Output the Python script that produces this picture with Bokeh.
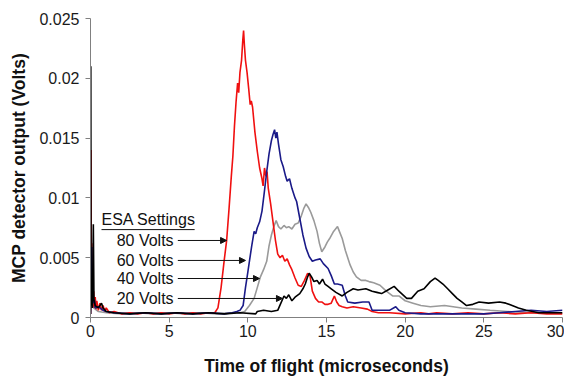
from bokeh.plotting import figure
from bokeh.models import Arrow, NormalHead, Label, Range1d, FixedTicker
from bokeh.embed import file_html
from bokeh.resources import INLINE

# ---------------- data ----------------
t_red = [0.00, 0.03, 0.05, 0.08, 0.10, 0.13, 0.16, 0.20, 0.25, 0.30, 0.35, 0.40, 0.50, 0.60, 0.70,
         0.80, 0.90, 1.00, 1.20, 1.50, 2.00, 2.50, 3.00, 3.50, 4.00, 4.50, 5.00, 5.50, 6.00, 6.50,
         7.00, 7.50, 7.90, 8.10, 8.30, 8.50, 8.65, 8.80, 8.95, 9.05, 9.15, 9.25, 9.35, 9.42, 9.50,
         9.60, 9.68, 9.73, 9.78, 9.85, 9.95, 10.05, 10.15, 10.22, 10.30, 10.45, 10.60, 10.75, 10.90,
         10.97, 11.06, 11.15, 11.22, 11.30, 11.45, 11.60, 11.75, 11.90, 12.05, 12.20, 12.35, 12.50,
         12.65, 12.80, 13.00, 13.20, 13.40, 13.60, 13.80, 13.95, 14.10, 14.30, 14.50, 14.70, 14.90,
         15.10, 15.30, 15.50, 15.65, 15.80, 16.00, 16.30, 16.70, 17.20, 17.60, 17.90, 18.30, 19.00,
         20.00, 21.00, 21.50, 22.00, 23.00, 24.00, 25.00, 26.00, 27.00, 28.00, 29.00, 30.00]
v_red = [0.0003, 0.0140, 0.0030, 0.0062, 0.0012, 0.0035, 0.0009, 0.0022, 0.0008, 0.0017, 0.0007, 0.0014, 0.0006, 0.0012, 0.0006,
         0.0010, 0.0005, 0.0008, 0.0004, 0.0005, 0.0003, 0.0004, 0.0003, 0.0004, 0.0003, 0.0004, 0.0003, 0.0004, 0.0003, 0.0004,
         0.0003, 0.0004, 0.0004, 0.0008, 0.0025, 0.0048, 0.0064, 0.0090, 0.0118, 0.0135, 0.0160, 0.0180, 0.0196, 0.0188, 0.0205,
         0.0215, 0.0232, 0.0240, 0.0228, 0.0215, 0.0205, 0.0192, 0.0178, 0.0181, 0.0176, 0.0155, 0.0139, 0.0125, 0.0116,
         0.0110, 0.0125, 0.0118, 0.0122, 0.0108, 0.0095, 0.0080, 0.0065, 0.0053, 0.0050, 0.0052, 0.0047, 0.0049,
         0.0044, 0.0040, 0.0033, 0.0027, 0.0026, 0.0031, 0.0037, 0.0035, 0.0022, 0.0016, 0.0013, 0.0013, 0.0011,
         0.0011, 0.0012, 0.0018, 0.0013, 0.0010, 0.0009, 0.0008, 0.0009, 0.0008, 0.0007, 0.0005, 0.0004, 0.0004,
         0.0003, 0.0004, 0.0003, 0.0004, 0.0003, 0.0004, 0.0003, 0.0004, 0.0003, 0.0004, 0.0003, 0.0003]

t_blue = [0.00, 0.05, 0.08, 0.10, 0.13, 0.18, 0.25, 0.30, 0.50, 0.80, 1.00, 1.50, 2.50, 3.50, 4.50,
          5.50, 6.50, 7.50, 8.50, 9.00, 9.30, 9.50, 9.70, 9.85, 10.00, 10.10, 10.25, 10.40, 10.50,
          10.60, 10.75, 10.90, 11.05, 11.20, 11.35, 11.50, 11.60, 11.70, 11.78, 11.85, 11.95, 12.10,
          12.25, 12.40, 12.50, 12.65, 12.80, 13.00, 13.10, 13.30, 13.50, 13.70, 13.90, 14.10, 14.30,
          14.60, 14.80, 15.10, 15.30, 15.50, 15.70, 16.00, 16.20, 16.35, 16.80, 17.30, 17.70, 17.90,
          18.50, 19.00, 19.40, 19.60, 20.00, 21.00, 22.00, 23.00, 24.00, 25.00, 26.00, 27.00, 28.00,
          29.00, 30.00]
v_blue = [0.0003, 0.0035, 0.0059, 0.0020, 0.0030, 0.0012, 0.0015, 0.0008, 0.0009, 0.0006, 0.0005, 0.0004, 0.0003, 0.0004, 0.0003,
          0.0004, 0.0003, 0.0004, 0.0003, 0.0004, 0.0005, 0.0006, 0.0010, 0.0025, 0.0038, 0.0047, 0.0060, 0.0072, 0.0070,
          0.0075, 0.0080, 0.0089, 0.0105, 0.0122, 0.0137, 0.0148, 0.0153, 0.0157, 0.0150, 0.0155, 0.0145, 0.0132,
          0.0126, 0.0118, 0.0114, 0.0116, 0.0108, 0.0100, 0.0097, 0.0083, 0.0069, 0.0058, 0.0051, 0.0047, 0.0048,
          0.0049, 0.0045, 0.0041, 0.0035, 0.0028, 0.0028, 0.0027, 0.0018, 0.0013, 0.0012, 0.0013, 0.0013, 0.0006,
          0.0006, 0.0006, 0.0009, 0.0006, 0.0004, 0.0003, 0.0003, 0.0003, 0.0003, 0.0003, 0.0004, 0.0005, 0.0006,
          0.0005, 0.0006]

t_gray = [0.00, 0.05, 0.10, 0.20, 0.50, 1.00, 2.00, 3.00, 4.00, 5.00, 6.00, 7.00, 8.00, 9.00, 9.50,
          9.80, 10.10, 10.40, 10.60, 10.80, 11.00, 11.20, 11.35, 11.50, 11.65, 11.80, 11.95, 12.10,
          12.30, 12.45, 12.60, 12.80, 13.00, 13.20, 13.40, 13.55, 13.70, 13.85, 14.00, 14.20, 14.40,
          14.55, 14.70, 14.90, 15.05, 15.20, 15.45, 15.70, 15.85, 16.00, 16.20, 16.50, 16.70, 16.90,
          17.20, 17.50, 17.70, 18.00, 18.40, 18.80, 19.20, 19.60, 20.00, 20.50, 21.00, 21.60, 22.50,
          23.60, 24.50, 25.40, 26.50, 28.00, 30.00]
v_gray = [0.0003, 0.0025, 0.0010, 0.0008, 0.0005, 0.0004, 0.0003, 0.0004, 0.0003, 0.0004, 0.0003, 0.0004, 0.0003, 0.0004, 0.0004,
          0.0005, 0.0010, 0.0016, 0.0025, 0.0034, 0.0040, 0.0047, 0.0060, 0.0069, 0.0076, 0.0081, 0.0076, 0.0074,
          0.0077, 0.0075, 0.0076, 0.0074, 0.0078, 0.0079, 0.0085, 0.0091, 0.0095, 0.0092, 0.0088, 0.0081, 0.0072,
          0.0062, 0.0055, 0.0059, 0.0063, 0.0066, 0.0072, 0.0076, 0.0071, 0.0066, 0.0056, 0.0044, 0.0038, 0.0034,
          0.0031, 0.0031, 0.0030, 0.0029, 0.0027, 0.0022, 0.0018, 0.0018, 0.0014, 0.0012, 0.0010, 0.0009, 0.0010,
          0.0008, 0.0007, 0.0006, 0.0005, 0.0004, 0.0004]

t_black = [0.00, 0.02, 0.04, 0.08, 0.12, 0.18, 0.22, 0.30, 0.50, 0.70, 0.80, 1.00, 1.50, 2.50, 3.50,
           4.50, 5.50, 6.50, 7.50, 8.50, 9.50, 10.50, 10.60, 11.00, 11.50, 11.90, 12.10, 12.30, 12.45,
           12.60, 12.80, 13.00, 13.30, 13.50, 13.65, 13.80, 13.90, 14.05, 14.20, 14.40, 14.55, 14.75,
           14.90, 15.10, 15.30, 15.60, 16.00, 16.30, 16.70, 17.00, 17.50, 17.90, 18.20, 18.50, 18.90,
           19.30, 19.60, 20.10, 20.40, 20.80, 21.20, 21.60, 21.90, 22.10, 22.40, 22.70, 23.00, 23.30,
           23.60, 23.90, 24.30, 24.70, 25.30, 26.00, 26.40, 26.80, 27.20, 27.70, 28.50, 30.00]
v_black = [0.0003, 0.0210, 0.0010, 0.0030, 0.0008, 0.0078, 0.0015, 0.0010, 0.0008, 0.0012, 0.0008, 0.0005, 0.0004, 0.0003, 0.0004,
           0.0003, 0.0004, 0.0003, 0.0004, 0.0003, 0.0004, 0.0003, 0.0005, 0.0006, 0.0005, 0.0006, 0.0012, 0.0018, 0.0016,
           0.0019, 0.0014, 0.0017, 0.0020, 0.0024, 0.0028, 0.0034, 0.0037, 0.0034, 0.0030, 0.0031, 0.0028, 0.0032,
           0.0028, 0.0026, 0.0024, 0.0021, 0.0018, 0.0021, 0.0024, 0.0023, 0.0024, 0.0022, 0.0021, 0.0020, 0.0023,
           0.0026, 0.0022, 0.0016, 0.0016, 0.0022, 0.0024, 0.0030, 0.0033, 0.0031, 0.0028, 0.0024, 0.0020, 0.0016,
           0.0013, 0.0010, 0.0011, 0.0013, 0.0012, 0.0013, 0.0012, 0.0010, 0.0008, 0.0006, 0.0004, 0.0004]

x_ticks = [0, 5, 10, 15, 20, 25, 30]
y_ticks = [0, 0.005, 0.01, 0.015, 0.02, 0.025]
y_tick_labels = ["0", "0.005", "0.01", "0.015", "0.02", "0.025"]

legend_title = "ESA Settings"
legend_labels = ["80 Volts", "60 Volts", "40 Volts", "20 Volts"]
legend_y = [0.00644, 0.00477, 0.00326, 0.00159]
arrow_end_x = [8.65, 9.85, 10.74, 12.2]

# ---------------- figure ----------------
FONT = "Liberation Sans"
p = figure(width=564, height=379, output_backend="svg", toolbar_location=None,
           x_range=Range1d(0, 30), y_range=Range1d(0, 0.025),
           min_border_left=90, min_border_top=18, min_border_right=2, min_border_bottom=62)
p.outline_line_color = None
p.xgrid.visible = False
p.ygrid.visible = False
p.background_fill_color = "white"

for ax in (p.xaxis, p.yaxis):
    ax.axis_line_color = "#808080"
    ax.major_tick_line_color = "#808080"
    ax.minor_tick_line_color = None
    ax.major_tick_in = 0
    ax.major_tick_out = 5
    ax.major_label_text_font = FONT
    ax.major_label_text_font_size = "16px"
    ax.major_label_text_color = "#1a1a1a"
    ax.axis_label_text_font = FONT
    ax.axis_label_text_font_size = "17.5px"
    ax.axis_label_text_font_style = "bold"
    ax.axis_label_text_color = "#111111"

p.xaxis.ticker = FixedTicker(ticks=x_ticks)
p.yaxis.ticker = FixedTicker(ticks=y_ticks)
p.yaxis.major_label_overrides = {tk: lb for tk, lb in zip(y_ticks, y_tick_labels)}
p.xaxis.axis_label = "Time of flight (microseconds)"
p.yaxis.axis_label = "MCP detector output (Volts)"
p.xaxis.major_label_standoff = 2
p.xaxis.axis_label_standoff = 16
p.yaxis.major_label_standoff = 6
p.yaxis.axis_label_standoff = 7

p.line(t_gray, v_gray, line_color="#9a9a9a", line_width=1.6)
p.line(t_red, v_red, line_color="#f01010", line_width=1.6)
p.line(t_blue, v_blue, line_color="#1a1a88", line_width=1.6)
p.line(t_black, v_black, line_color="#000000", line_width=1.6)

# annotation block
p.add_layout(Label(x=0.70, y=0.0082, text=legend_title, text_font=FONT, text_font_size="16px",
                   text_baseline="middle", text_align="left", text_color="#111111"))
p.segment(x0=[0.70], y0=[0.00735], x1=[6.62], y1=[0.00735], line_color="#111111", line_width=1)
for lab, yv, xe in zip(legend_labels, legend_y, arrow_end_x):
    p.add_layout(Label(x=5.28, y=yv, text=lab, text_font=FONT, text_font_size="16px",
                       text_baseline="middle", text_align="right", text_color="#111111"))
    p.add_layout(Arrow(x_start=5.55, y_start=yv, x_end=xe, y_end=yv, line_color="#111111", line_width=1,
                       end=NormalHead(size=6, fill_color="#111111", line_color="#111111")))

open("out.html", "w").write(file_html(p, INLINE))
